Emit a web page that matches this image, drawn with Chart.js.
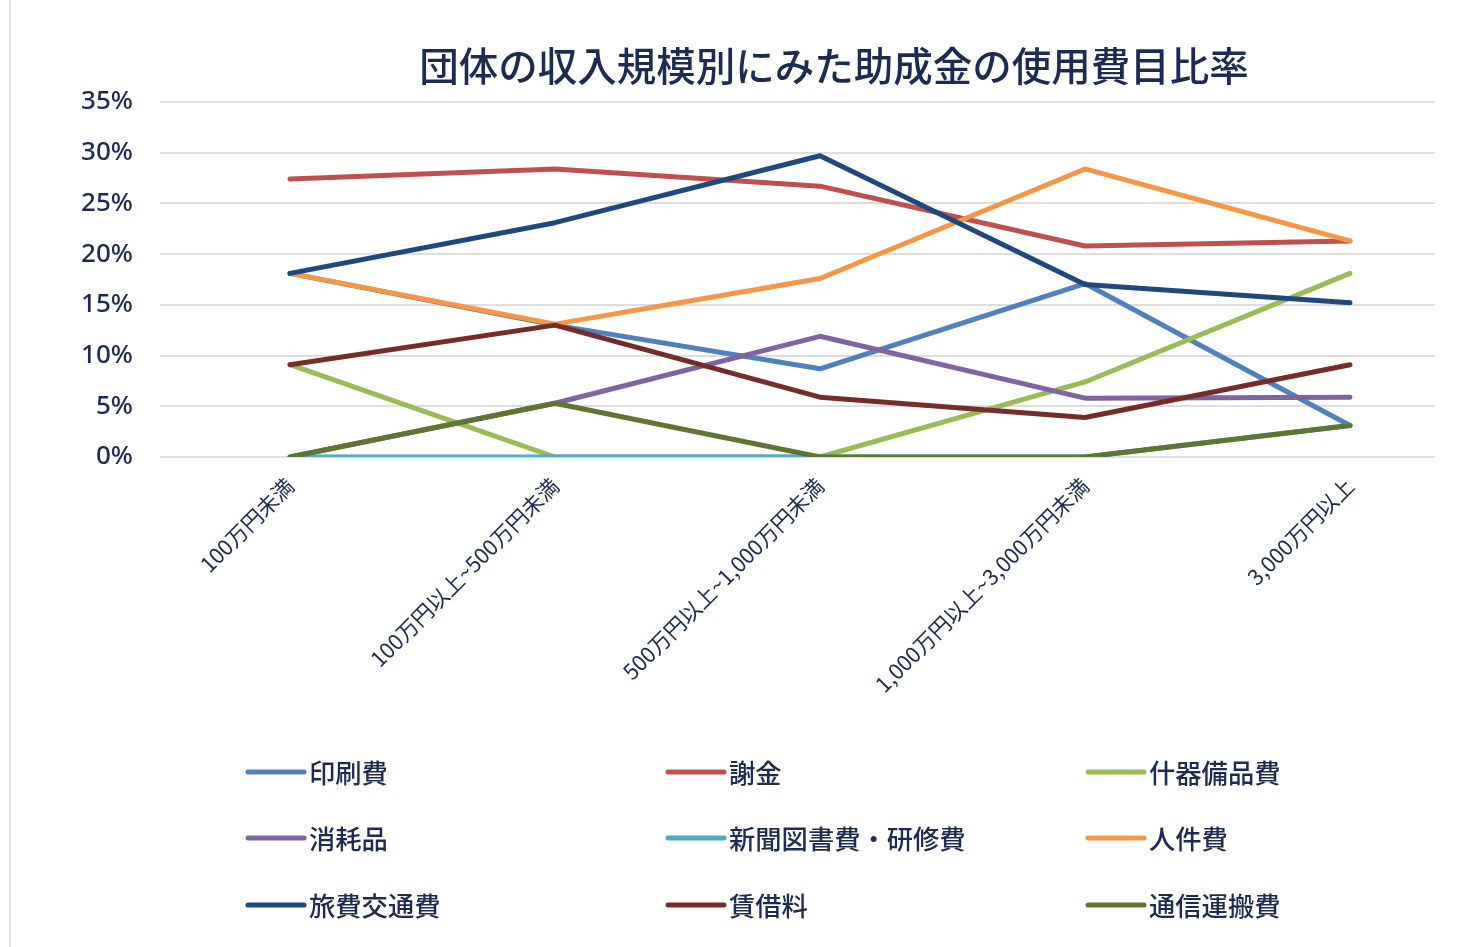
<!DOCTYPE html>
<html>
<head>
<meta charset="utf-8">
<script src="https://cdn.jsdelivr.net/npm/chart.js@4/dist/chart.umd.min.js"></script>
<style>
  html, body { margin: 0; padding: 0; background: #ffffff; }
  #wrap { width: 1461px; height: 947px; position: relative; }
</style>
</head>
<body>
<div id="wrap"><canvas id="c" width="1461" height="947"></canvas></div>
<script>
// 団体の収入規模別にみた助成金の使用費目比率（%）
const titleText = '団体の収入規模別にみた助成金の使用費目比率';

const categories = [
  '100万円未満',
  '100万円以上~500万円未満',
  '500万円以上~1,000万円未満',
  '1,000万円以上~3,000万円未満',
  '3,000万円以上'
];

const seriesNames = [
  '印刷費', '謝金', '什器備品費',
  '消耗品', '新聞図書費・研修費', '人件費',
  '旅費交通費', '賃借料', '通信運搬費'
];

const printing     = [18.1, 13.0,  8.7, 17.1,  3.1];
const honorarium   = [27.4, 28.4, 26.7, 20.8, 21.3];
const equipment    = [ 9.1,  0.0,  0.0,  7.4, 18.1];
const consumables  = [ 0.0,  5.3, 11.9,  5.8,  5.9];
const booksTraining= [ 0.0,  0.0,  0.0,  0.0,  3.1];
const personnel    = [18.1, 13.1, 17.6, 28.4, 21.3];
const travel       = [18.1, 23.1, 29.7, 17.0, 15.2];
const rent         = [ 9.1, 13.0,  5.9,  3.9,  9.1];
const communication= [ 0.0,  5.3,  0.0,  0.0,  3.1];

const yTicks = [0, 5, 10, 15, 20, 25, 30, 35];

const seriesValues = [
  printing, honorarium, equipment,
  consumables, booksTraining, personnel,
  travel, rent, communication
];

const seriesColors = [
  '#4f81bd', '#c0504d', '#9bbb59',
  '#8064a2', '#4bacc6', '#f79646',
  '#1f497d', '#772c2a', '#5f7530'
];

const textColor = '#1d2b53';

const datasets = seriesNames.map((name, i) => ({
  label: name,
  data: seriesValues[i].map((v, j) => ({ x: j, y: v })),
  borderColor: seriesColors[i],
  backgroundColor: seriesColors[i],
  borderWidth: 5,
  borderCapStyle: 'round',
  borderJoinStyle: 'round',
  pointRadius: 0,
  pointHoverRadius: 0,
  tension: 0,
  fill: false,
  // later series are painted over earlier ones
  order: seriesNames.length - i
}));

// title, frame line and three-column legend painted onto the canvas
const decorations = {
  id: 'decorations',
  beforeDraw(chart) {
    const ctx = chart.ctx;
    ctx.save();
    ctx.strokeStyle = '#e4e4e4';
    ctx.lineWidth = 2;
    ctx.beginPath();
    ctx.moveTo(10, 0);
    ctx.lineTo(10, chart.height);
    ctx.stroke();
    ctx.restore();
  },
  afterDraw(chart) {
    const ctx = chart.ctx;
    ctx.save();
    ctx.fillStyle = textColor;
    ctx.textAlign = 'center';
    ctx.textBaseline = 'middle';
    ctx.font = '500 39.5px "Noto Sans CJK JP", "Noto Sans", sans-serif';
    ctx.fillText(titleText, 834, 66);

    const colX = [248, 668, 1088];
    const rowY = [772, 838, 905];
    ctx.textAlign = 'left';
    ctx.font = '500 26.3px "Noto Sans CJK JP", "Noto Sans", sans-serif';
    chart.data.datasets.forEach((ds, i) => {
      const x = colX[i % 3];
      const y = rowY[Math.floor(i / 3)];
      ctx.strokeStyle = ds.borderColor;
      ctx.lineWidth = 5;
      ctx.lineCap = 'round';
      ctx.beginPath();
      ctx.moveTo(x, y);
      ctx.lineTo(x + 56, y);
      ctx.stroke();
      ctx.fillStyle = textColor;
      ctx.fillText(ds.label, x + 61, y + 1);
    });
    ctx.restore();
  }
};

new Chart(document.getElementById('c'), {
  type: 'line',
  data: { datasets },
  options: {
    responsive: false,
    animation: false,
    devicePixelRatio: 1,
    layout: { padding: { top: 102, right: 26, bottom: 0, left: 0 } },
    plugins: {
      legend: { display: false },
      title: { display: false },
      tooltip: { enabled: false }
    },
    scales: {
      x: {
        type: 'linear',
        min: -0.4906,
        max: 4.3208,
        afterBuildTicks: (scale) => {
          scale.ticks = categories.map((_, i) => ({ value: i }));
        },
        afterFit: (scale) => { scale.height = 490; },
        grid: { display: false, drawTicks: false },
        border: { display: false },
        ticks: {
          autoSkip: false,
          minRotation: 45,
          maxRotation: 45,
          padding: 16,
          color: textColor,
          font: { family: '"Noto Sans CJK JP", "Noto Sans", sans-serif', size: 21.5 },
          callback: (v) => categories[v] ?? ''
        }
      },
      y: {
        min: 0,
        max: 35,
        afterBuildTicks: (scale) => {
          scale.ticks = yTicks.map(v => ({ value: v }));
        },
        afterFit: (scale) => { scale.width = 160; },
        grid: { color: '#dedede', lineWidth: 2, drawTicks: false },
        border: { display: false },
        ticks: {
          padding: 27,
          color: textColor,
          font: { family: '"Noto Sans", sans-serif', size: 26, weight: '500' },
          callback: (v) => v + '%'
        }
      }
    }
  },
  plugins: [decorations]
});
</script>
</body>
</html>
